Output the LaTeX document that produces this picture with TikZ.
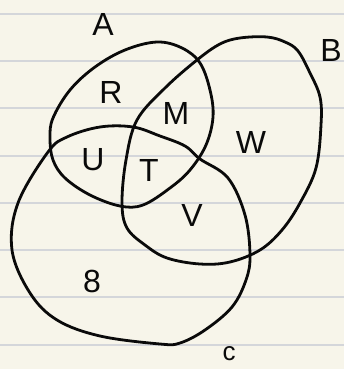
\documentclass[tikz,border=0pt]{standalone}
\usepackage{fontspec}
\setmainfont{Liberation Sans}
\usepackage{tikz}
\usetikzlibrary{backgrounds}
\definecolor{papercream}{RGB}{247,245,234}
\definecolor{ruleline}{RGB}{212,214,218}
\definecolor{penink}{RGB}{10,10,10}
\tikzset{
  ruled/.style={draw=ruleline,line width=1.6pt},
  setline/.style={draw=penink,line width=2.8pt,line join=round,line cap=round},
  lab/.style={text=penink,inner sep=0pt,font=\fontsize{32}{32}\selectfont},
  smalllab/.style={text=penink,inner sep=0pt,font=\fontsize{26}{26}\selectfont}
}

\begin{document}
\begin{tikzpicture}[x=1pt,y=-1pt]
  \useasboundingbox (0,0) rectangle (344,369);
  \fill[papercream] (0,0) rectangle (344,369);
  % ruled paper
  \foreach \yy in {14,61,108,156,203,250,297,345}
    \draw[ruled] (0,\yy) -- (344,\yy);
  % set A
  \draw[setline] plot[smooth cycle,tension=0.6] coordinates {
    (157,42) (182,48) (200,63) (210,90) (213,117) (206,145) (190,170)
    (170,188) (143,205) (120,206) (90,195) (65,178) (53,160) (50,138)
    (53,118) (70,90) (95,67) (125,50)};
  % set B
  \draw[setline] plot[smooth cycle,tension=0.6] coordinates {
    (240,38) (267,37) (285,42) (298,51) (310,73) (320,97) (321,125)
    (316,168) (300,203) (282,230) (260,250) (230,262) (200,264)
    (167,258) (145,245) (127,228) (122,203) (126,160) (137,120)
    (165,88) (197,60) (220,44)};
  % set C
  \draw[setline] plot[smooth cycle,tension=0.6] coordinates {
    (48,152) (67,137) (100,127) (133,127) (160,136) (185,146) (200,159)
    (228,178) (245,215) (250,255) (246,280) (232,307) (205,330)
    (180,343) (160,344) (100,336) (57,320) (30,293) (12,250) (18,203)};
  % set names
  \node[lab] (nameA) at (103,24) {A};
  \node[lab] (nameB) at (331,50) {B};
  \node[smalllab] (nameC) at (229,354) {c};
  % region entries
  \node[lab] (r) at (111,92) {R};
  \node[lab] (m) at (176,113) {M};
  \node[lab] (w) at (251,142) {W};
  \node[lab] (u) at (93,160) {U};
  \node[lab] (t) at (149,170) {T};
  \node[lab] (v) at (192,215) {V};
  \node[lab] (eight) at (92,281) {8};
\end{tikzpicture}
\end{document}
